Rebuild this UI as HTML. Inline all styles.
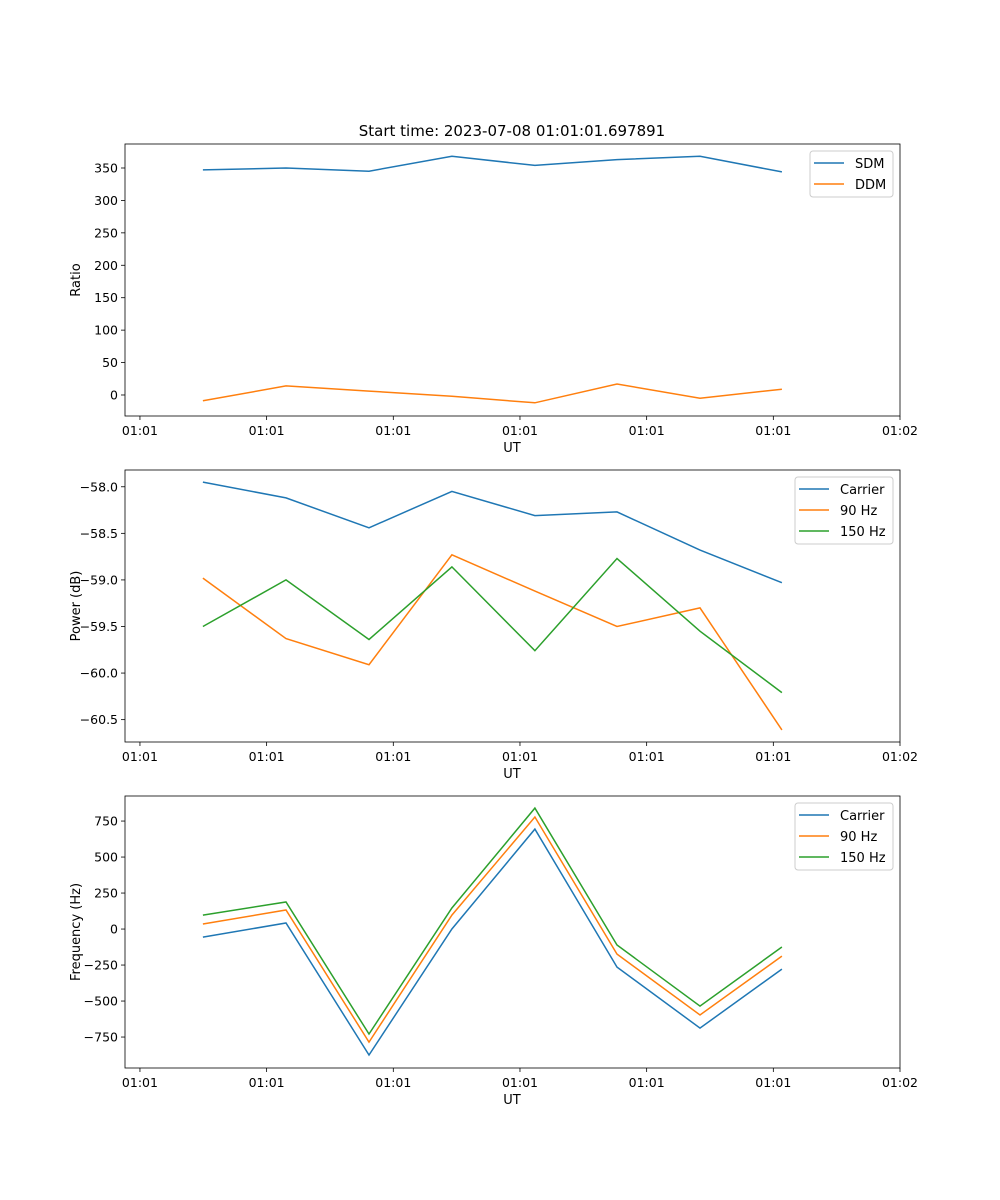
<!DOCTYPE html>
<html><head><meta charset="utf-8"><style>
body{margin:0;background:#fff}
svg{display:block;font-family:"DejaVu Sans","Liberation Sans",sans-serif}
</style></head><body>
<svg id="fig" width="1000" height="1200" viewBox="0 0 1000 1200" xmlns="http://www.w3.org/2000/svg">
<rect width="1000" height="1200" fill="#fff"/>
<text x="512" y="136" font-size="15" text-anchor="middle">Start time: 2023-07-08 01:01:01.697891</text>
</svg>
<script>
const xTickLabels = ["01:01","01:01","01:01","01:01","01:01","01:01","01:02"];
const xTickVals = [0,1,2,3,4,5,6];
const times = [0.497,1.153,1.808,2.463,3.118,3.766,4.421,5.068];
const sdm = [347,350,345,368,354,363,368,344];
const ddm = [-9,14,6,-2,-12,17,-5,9];
const powCarrier = [-57.95,-58.12,-58.44,-58.05,-58.31,-58.27,-58.68,-59.03];
const pow90 = [-58.98,-59.63,-59.91,-58.73,-59.12,-59.50,-59.30,-60.61];
const pow150 = [-59.50,-59.00,-59.64,-58.86,-59.76,-58.77,-59.55,-60.21];
const freqCarrier = [-56,42,-875,0,694,-264,-688,-278];
const freq90 = [35,132,-785,97,778,-174,-597,-188];
const freq150 = [97,188,-729,146,840,-111,-535,-125];
const ticks1 = [0,50,100,150,200,250,300,350];
const ticks2 = [-58.0,-58.5,-59.0,-59.5,-60.0,-60.5];
const ticks3 = [-750,-500,-250,0,250,500,750];

const NS="http://www.w3.org/2000/svg";
const svg=document.getElementById('fig');
const C={blue:'#1f77b4',orange:'#ff7f0e',green:'#2ca02c'};
function mk(t,a,p){const e=document.createElementNS(NS,t);for(const k in a)e.setAttribute(k,a[k]);(p||svg).appendChild(e);return e;}
const L=125,R=900,xmin=-0.118,xmax=6.0;
function sx(v){return L+(v-xmin)/(xmax-xmin)*(R-L);}

function panel(name,top,bot,ymin,ymax,ticks,fmt,ylabel,series,legend){
  const g=mk('g',{});
  
  
  const sy=v=>bot-(v-ymin)/(ymax-ymin)*(bot-top);
  ticks.forEach(t=>{
    const y=sy(t);
    const tk=mk('line',{x1:L-4,x2:L,y1:y,y2:y,stroke:'#000','stroke-width':0.8},g);
    
    
    const tx=mk('text',{x:L-7,y:y+4.5,'font-size':12.5,'text-anchor':'end'},g);
    tx.textContent=fmt(t);
    
    
  });
  xTickVals.forEach((t,i)=>{
    const x=sx(t);
    const tk=mk('line',{x1:x,x2:x,y1:bot,y2:bot+4,stroke:'#000','stroke-width':0.8},g);
    
    
    const tx=mk('text',{x:x,y:bot+19,'font-size':12.5,'text-anchor':'middle'},g);
    tx.textContent=xTickLabels[i];
    
    
  });
  const xl=mk('text',{x:512,y:bot+36,'font-size':13,'text-anchor':'middle'},g);
  xl.textContent='UT';
  
  
  const yl=mk('text',{x:0,y:0,'font-size':13,'text-anchor':'middle',transform:`translate(${L-45},${(top+bot)/2}) rotate(-90)`},g);
  yl.textContent=ylabel;
  
  
  series.forEach(s=>{
    const pts=s.vals.map((v,i)=>sx(times[i]).toFixed(1)+','+sy(v).toFixed(1)).join(' ');
    const pl=mk('polyline',{points:pts,fill:'none',stroke:s.color,'stroke-width':1.5},g);
    
    
  });
  const fr=mk('rect',{x:L,y:top,width:R-L,height:bot-top,fill:'none',stroke:'#000','stroke-width':0.8},g);
  
  
  const lg=mk('g',{},g);
  
  
  mk('rect',{x:legend.x,y:top+7,width:893-legend.x,height:series.length*21+4,rx:3,fill:'#fff',stroke:'#ccc','stroke-width':1},lg);
  series.forEach((s,i)=>{
    const y=top+19+i*21;
    const e=mk('g',{},lg);
    
    
    mk('line',{x1:legend.x+4,x2:legend.x+34,y1:y,y2:y,stroke:s.color,'stroke-width':1.5},e);
    const t=mk('text',{x:legend.x+45,y:y+5,'font-size':13},e);
    t.textContent=s.label;
  });
}
panel('ratio-panel',144,416,-32.4,387,ticks1,v=>String(v),'Ratio',
  [{id:'sdm',label:'SDM',vals:sdm,color:C.blue},{id:'ddm',label:'DDM',vals:ddm,color:C.orange}],{x:810});
panel('power-panel',470,742,-60.74,-57.82,ticks2,v=>(v<0?'\u2212':'')+Math.abs(v).toFixed(1),'Power (dB)',
  [{id:'carrier',label:'Carrier',vals:powCarrier,color:C.blue},{id:'90hz',label:'90 Hz',vals:pow90,color:C.orange},{id:'150hz',label:'150 Hz',vals:pow150,color:C.green}],{x:795});
panel('frequency-panel',796,1068,-965,924,ticks3,v=>(v<0?'\u2212':'')+Math.abs(v),'Frequency (Hz)',
  [{id:'carrier',label:'Carrier',vals:freqCarrier,color:C.blue},{id:'90hz',label:'90 Hz',vals:freq90,color:C.orange},{id:'150hz',label:'150 Hz',vals:freq150,color:C.green}],{x:795});
</script>
</body></html>
